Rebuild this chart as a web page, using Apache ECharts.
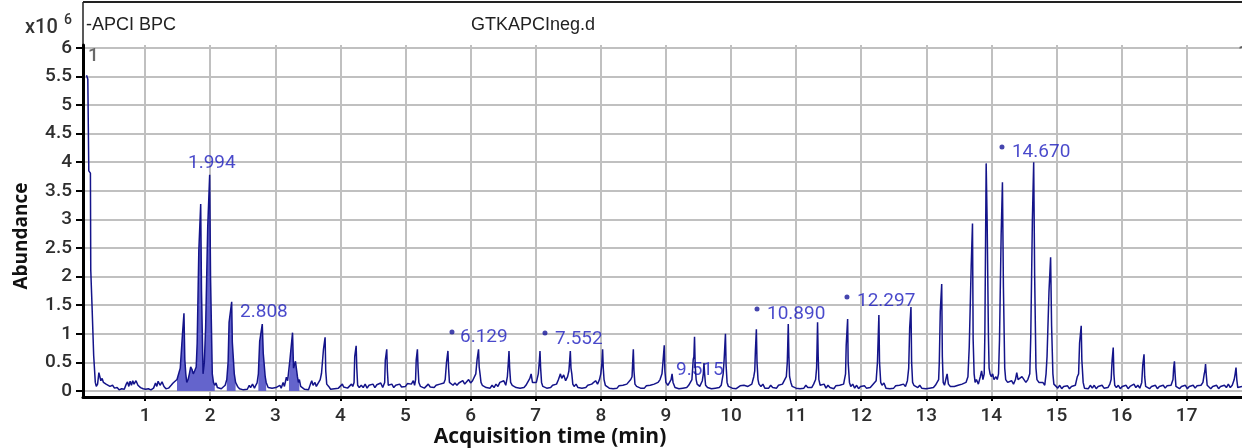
<!DOCTYPE html>
<html><head><meta charset="utf-8">
<script src="https://cdn.jsdelivr.net/npm/echarts@6/dist/echarts.min.js"></script>
<style>html,body{margin:0;padding:0;background:#fff}#c{width:1242px;height:448px}</style>
</head><body><div id="c"></div>
<script>
// ---- Data: BPC trace (time in min, abundance in x10^6) ----
const traceA = [
[0.10,5.52],[0.12,5.45],[0.135,3.85],[0.16,3.81],[0.165,2.12],[0.18,2.1],[0.185,1.48],[0.205,1.47],[0.21,0.62],[0.225,0.6],[0.235,0.15],[0.25,0.08],[0.27,0.12],[0.29,0.32],[0.305,0.3],[0.32,0.18],[0.34,0.22],[0.36,0.15],[0.38,0.18],[0.40,0.12],[0.43,0.14],[0.46,0.08],[0.50,0.10],[0.53,0.05],[0.57,0.06],[0.60,0.02],[0.64,0.04],[0.68,0.03],[0.71,0.12],[0.73,0.16],[0.75,0.08],[0.77,0.17],[0.79,0.1],[0.81,0.18],[0.83,0.12],[0.86,0.18],[0.89,0.1],[0.93,0.06],[0.97,0.04],[1.01,0.03],[1.05,0.04],[1.09,0.02],[1.13,0.05],[1.16,0.14],[1.18,0.08],[1.20,0.17],[1.23,0.1],[1.26,0.16],[1.29,0.08],[1.32,0.04],[1.36,0.05],[1.40,0.1],[1.43,0.14],[1.46,0.12],
[1.49,0.2],[1.52,0.32],[1.54,0.4],[1.565,0.42],[1.575,1.01],[1.585,1.02],[1.597,1.36],[1.61,0.55],[1.625,0.3],[1.64,0.15],[1.66,0.2],[1.68,0.3],[1.70,0.42],[1.72,0.38],[1.74,0.3],[1.76,0.35],[1.785,0.42],[1.80,0.84],[1.825,2.45],[1.838,2.46],[1.854,3.27],[1.866,1.77],[1.878,1.76],[1.89,0.3],[1.91,0.5],[1.93,1.12],[1.946,1.13],[1.962,2.87],[1.975,2.88],[1.992,3.78],[2.005,2.0],[2.02,1.99],[2.032,0.3],[2.05,0.15],[2.07,0.1],
[2.09,0.14],[2.11,0.06],[2.14,0.08],[2.17,0.04],[2.20,0.06],[2.23,0.1],[2.255,0.2],[2.275,0.5],[2.29,1.2],[2.31,1.22],[2.33,1.56],[2.34,0.85],[2.355,0.85],[2.37,0.3],[2.39,0.15],
[2.42,0.08],[2.45,0.04],[2.48,0.06],[2.51,0.02],[2.54,0.05],[2.57,0.03],[2.60,0.1],[2.62,0.06],[2.65,0.12],[2.68,0.05],[2.70,0.1],[2.72,0.14],
[2.74,0.3],[2.76,0.87],[2.78,0.87],[2.80,1.17],[2.815,0.66],[2.83,0.66],[2.845,0.25],[2.86,0.15],
[2.89,0.06],[2.92,0.03],[2.95,0.05],[2.98,0.02],[3.01,0.06],[3.04,0.03],[3.07,0.1],[3.09,0.05],[3.12,0.15],[3.14,0.08],[3.17,0.24],[3.19,0.18],
[3.21,0.2],[3.225,0.55],[3.245,0.55],[3.265,1.02],[3.28,0.4],[3.295,0.4],[3.31,0.52],[3.325,0.52],[3.34,0.25],[3.355,0.15],[3.37,0.2],[3.39,0.08]
];
const traceB = [
[3.42,0.06],[3.45,0.03],[3.48,0.05],[3.51,0.02],[3.54,0.12],[3.56,0.18],[3.58,0.1],[3.61,0.15],[3.63,0.08],[3.66,0.1],[3.69,0.2],
[3.71,0.31],[3.725,0.3],[3.74,0.73],[3.752,0.73],[3.765,0.94],[3.775,0.35],[3.79,0.12],[3.82,0.08],
[3.85,0.03],[3.88,0.02],[3.91,0.04],[3.94,0.02],[3.97,0.05],[4.0,0.03],[4.03,0.12],[4.05,0.07],[4.08,0.1],[4.11,0.05],[4.14,0.08],[4.17,0.12],[4.19,0.08],
[4.21,0.15],[4.22,0.6],[4.232,0.6],[4.242,0.79],[4.252,0.4],[4.265,0.1],[4.29,0.06],
[4.32,0.1],[4.35,0.06],[4.38,0.12],[4.41,0.05],[4.44,0.1],[4.47,0.07],[4.50,0.12],[4.53,0.06],[4.56,0.11],[4.59,0.08],[4.62,0.14],[4.65,0.06],[4.68,0.15],
[4.69,0.54],[4.70,0.55],[4.712,0.73],[4.722,0.35],[4.735,0.1],[4.76,0.08],
[4.79,0.12],[4.82,0.06],[4.85,0.1],[4.88,0.08],[4.91,0.12],[4.94,0.07],[4.97,0.1],[5.0,0.08],[5.03,0.13],[5.06,0.1],[5.09,0.12],[5.12,0.18],[5.14,0.1],
[5.155,0.2],[5.165,0.55],[5.175,0.55],[5.183,0.73],[5.193,0.4],[5.205,0.15],[5.23,0.08],
[5.26,0.1],[5.29,0.05],[5.32,0.08],[5.35,0.12],[5.38,0.07],[5.41,0.1],[5.44,0.06],[5.47,0.1],[5.50,0.07],[5.53,0.12],[5.56,0.1],[5.59,0.14],[5.61,0.2],
[5.63,0.5],[5.64,0.5],[5.652,0.70],[5.662,0.4],[5.675,0.15],[5.70,0.12],
[5.73,0.1],[5.76,0.14],[5.79,0.1],[5.82,0.14],[5.85,0.12],[5.88,0.18],[5.91,0.12],[5.94,0.16],[5.97,0.2],[6.0,0.14],[6.03,0.18],[6.06,0.2],[6.08,0.3],
[6.10,0.55],[6.11,0.55],[6.122,0.73],[6.132,0.42],[6.145,0.3],[6.16,0.15],[6.18,0.1],
[6.21,0.12],[6.24,0.06],[6.27,0.08],[6.30,0.05],[6.33,0.1],[6.36,0.06],[6.39,0.12],[6.42,0.08],[6.45,0.15],[6.48,0.12],[6.51,0.18],[6.54,0.1],[6.565,0.25],
[6.58,0.5],[6.59,0.7],[6.60,0.4],[6.615,0.15],[6.64,0.1],
[6.67,0.12],[6.70,0.06],[6.73,0.09],[6.76,0.05],[6.79,0.08],[6.82,0.06],[6.85,0.1],[6.88,0.12],[6.91,0.22],[6.93,0.3],[6.95,0.15],[6.98,0.12],[7.01,0.15],[7.04,0.3],
[7.055,0.5],[7.066,0.7],[7.076,0.4],[7.09,0.15],[7.11,0.08],
[7.14,0.1],[7.17,0.05],[7.20,0.08],[7.23,0.06],[7.26,0.1],[7.29,0.07],[7.32,0.12],[7.35,0.2],[7.38,0.3],[7.40,0.22],[7.43,0.28],[7.46,0.18],[7.49,0.25],[7.51,0.35],
[7.52,0.5],[7.532,0.7],[7.542,0.4],[7.555,0.3],[7.57,0.12],[7.59,0.08],
[7.62,0.12],[7.65,0.06],[7.68,0.09],[7.71,0.05],[7.74,0.08],[7.77,0.06],[7.80,0.1],[7.83,0.07],[7.86,0.12],[7.89,0.1],[7.92,0.18],[7.95,0.12],[7.98,0.2],[8.0,0.3],
[8.015,0.45],[8.028,0.73],[8.038,0.4],[8.05,0.2],[8.07,0.1],
[8.10,0.12],[8.13,0.05],[8.16,0.08],[8.19,0.04],[8.22,0.07],[8.25,0.05],[8.28,0.09],[8.31,0.06],[8.34,0.1],[8.37,0.07],[8.40,0.12],[8.43,0.1],[8.46,0.2],[8.48,0.25],
[8.49,0.5],[8.50,0.73],[8.51,0.35],[8.525,0.12],[8.55,0.08],
[8.58,0.1],[8.61,0.05],[8.64,0.08],[8.67,0.05],[8.70,0.09],[8.73,0.06],[8.76,0.1],[8.79,0.07],[8.82,0.12],[8.85,0.09],[8.88,0.15],[8.91,0.2],[8.94,0.3],[8.955,0.5]
];
const traceC = [
[8.965,0.5],[8.975,0.8],[8.985,0.35],[9.0,0.15],[9.03,0.1],[9.06,0.12],[9.08,0.2],[9.095,0.3],[9.11,0.15],[9.14,0.06],
[9.17,0.08],[9.20,0.04],[9.23,0.06],[9.26,0.05],[9.29,0.08],[9.32,0.06],[9.35,0.1],[9.38,0.12],[9.40,0.2],[9.42,0.55],
[9.43,0.6],[9.44,0.95],[9.45,0.45],[9.465,0.2],[9.48,0.12],[9.50,0.1],[9.52,0.08],[9.54,0.1],[9.56,0.18],[9.575,0.3],[9.585,0.49],[9.595,0.3],[9.61,0.1],
[9.64,0.06],[9.67,0.08],[9.70,0.04],[9.73,0.07],[9.76,0.05],[9.79,0.08],[9.82,0.06],[9.85,0.1],[9.88,0.3],
[9.895,0.55],[9.905,0.55],[9.915,1.0],[9.925,0.45],[9.94,0.15],[9.96,0.08],
[9.99,0.1],[10.02,0.05],[10.05,0.08],[10.08,0.04],[10.11,0.06],[10.14,0.09],[10.17,0.06],[10.20,0.1],[10.23,0.07],[10.26,0.08],[10.29,0.06],[10.32,0.12],[10.35,0.25],
[10.365,0.35],[10.375,0.7],[10.38,0.7],[10.39,1.08],[10.40,0.5],[10.415,0.2],[10.43,0.12],[10.46,0.08],
[10.49,0.12],[10.52,0.05],[10.55,0.08],[10.58,0.05],[10.61,0.1],[10.64,0.06],[10.67,0.09],[10.70,0.05],[10.73,0.1],[10.76,0.08],[10.79,0.12],[10.82,0.15],[10.85,0.25],
[10.865,0.5],[10.872,0.8],[10.88,1.17],[10.89,0.6],[10.9,0.25],[10.92,0.15],[10.94,0.08],
[10.97,0.1],[11.0,0.05],[11.03,0.08],[11.06,0.04],[11.09,0.07],[11.12,0.05],[11.15,0.1],[11.18,0.06],[11.21,0.08],[11.24,0.06],[11.27,0.12],[11.30,0.2],
[11.315,0.4],[11.322,0.75],[11.33,1.2],[11.34,0.6],[11.35,0.2],[11.37,0.1],
[11.40,0.08],[11.43,0.12],[11.46,0.05],[11.49,0.1],[11.52,0.06],[11.55,0.08],[11.58,0.04],[11.61,0.09],[11.64,0.06],[11.67,0.1],[11.70,0.08],[11.73,0.12],[11.76,0.3],
[11.77,0.8],[11.782,0.82],[11.792,1.26],[11.80,0.5],[11.81,0.5],[11.82,0.15],[11.84,0.08],
[11.87,0.12],[11.90,0.05],[11.93,0.1],[11.96,0.04],[11.99,0.08],[12.02,0.05],[12.05,0.09],[12.08,0.05],[12.11,0.08],[12.14,0.06],[12.17,0.1],[12.20,0.12],[12.23,0.18],
[12.25,0.5],[12.262,0.5],[12.272,1.33],[12.282,0.5],[12.29,0.5],[12.30,0.15],[12.32,0.1],[12.35,0.14],
[12.38,0.05],[12.41,0.08],[12.44,0.04],[12.47,0.07],[12.50,0.05],[12.53,0.09],[12.56,0.06],[12.59,0.1],[12.62,0.07],[12.65,0.12],[12.68,0.08],[12.71,0.18],
[12.73,0.4],[12.745,1.1],[12.755,1.11],[12.765,1.47],[12.775,0.5],[12.79,0.15],[12.81,0.1],[12.84,0.12],[12.87,0.06],
[12.90,0.1],[12.93,0.05],[12.96,0.08],[12.99,0.04],[13.02,0.07],[13.05,0.05],[13.08,0.08],[13.11,0.06],[13.14,0.1],[13.17,0.08],[13.19,0.2],
[13.20,0.5],[13.215,1.39],[13.225,1.4],[13.237,1.87],[13.247,0.6],[13.26,0.15],[13.28,0.1],[13.30,0.12],[13.32,0.3],[13.34,0.12],
[13.37,0.08],[13.40,0.05],[13.43,0.08],[13.46,0.05],[13.49,0.1],[13.52,0.07],[13.55,0.12],[13.58,0.1],[13.61,0.15],[13.64,0.25]
];
const traceD = [
[13.66,0.77],[13.675,0.78],[13.69,2.18],[13.70,2.2],[13.71,2.93],[13.72,0.9],[13.735,0.3],[13.75,0.15],[13.77,0.2],[13.80,0.12],[13.83,0.25],[13.85,0.35],[13.87,0.2],[13.89,0.3],
[13.90,1.0],[13.91,1.02],[13.92,3.98],[13.935,2.97],[13.945,2.97],[13.955,0.95],[13.965,0.4],[13.98,0.3],[14.0,0.25],[14.02,0.3],[14.04,0.2],[14.07,0.25],[14.09,0.2],[14.11,0.3],
[14.125,0.9],[14.135,0.92],[14.15,2.72],[14.16,2.72],[14.17,3.65],[14.185,1.82],[14.195,1.82],[14.205,0.4],[14.22,0.2],[14.25,0.15],[14.28,0.12],[14.31,0.18],[14.34,0.12],[14.37,0.2],[14.39,0.32],[14.41,0.2],[14.44,0.18],[14.47,0.25],[14.50,0.22],[14.53,0.15],[14.56,0.2],[14.59,0.3],
[14.605,0.95],[14.615,0.96],[14.63,2.99],[14.64,3.0],[14.65,4.0],[14.665,2.0],[14.675,2.0],[14.685,0.4],[14.70,0.2],[14.73,0.15],[14.76,0.12],[14.79,0.15],[14.82,0.1],[14.84,0.3],[14.855,0.6],
[14.87,0.62],[14.885,1.74],[14.895,1.75],[14.91,2.34],[14.925,1.14],[14.935,1.14],[14.945,0.3],[14.96,0.12],[14.99,0.1],
[15.02,0.05],[15.05,0.1],[15.08,0.04],[15.11,0.08],[15.14,0.05],[15.17,0.09],[15.20,0.04],[15.23,0.08],[15.26,0.05],[15.29,0.1],[15.32,0.25],
[15.34,0.3],[15.355,0.84],[15.365,0.85],[15.38,1.14],[15.39,0.54],[15.40,0.54],[15.41,0.15],[15.43,0.05],
[15.46,0.08],[15.49,0.04],[15.52,0.1],[15.55,0.05],[15.58,0.1],[15.61,0.04],[15.64,0.08],[15.67,0.05],[15.70,0.1],[15.73,0.05],[15.76,0.08],[15.79,0.06],[15.82,0.12],[15.84,0.2],
[15.855,0.54],[15.862,0.55],[15.872,0.76],[15.882,0.3],[15.895,0.1],[15.92,0.06],
[15.95,0.1],[15.98,0.04],[16.01,0.08],[16.04,0.05],[16.07,0.1],[16.10,0.04],[16.13,0.08],[16.16,0.05],[16.19,0.12],[16.22,0.06],[16.25,0.1],[16.28,0.05],[16.31,0.15],
[16.325,0.45],[16.335,0.46],[16.345,0.64],[16.355,0.25],[16.37,0.08],
[16.40,0.1],[16.43,0.04],[16.46,0.08],[16.49,0.05],[16.52,0.1],[16.55,0.04],[16.58,0.08],[16.61,0.05],[16.64,0.1],[16.67,0.05],[16.70,0.09],[16.73,0.06],[16.76,0.1],[16.79,0.2],
[16.80,0.4],[16.812,0.52],[16.822,0.3],[16.835,0.08],
[16.86,0.1],[16.89,0.04],[16.92,0.08],[16.95,0.05],[16.98,0.1],[17.01,0.04],[17.04,0.08],[17.07,0.05],[17.10,0.1],[17.13,0.05],[17.16,0.09],[17.19,0.06],[17.22,0.1],[17.25,0.15],[17.27,0.3],
[17.28,0.35],[17.29,0.47],[17.30,0.3],[17.315,0.1],
[17.34,0.08],[17.37,0.04],[17.40,0.08],[17.43,0.05],[17.46,0.1],[17.49,0.04],[17.52,0.08],[17.55,0.05],[17.58,0.1],[17.61,0.06],[17.64,0.12],[17.67,0.06],[17.70,0.1],[17.73,0.2],
[17.745,0.3],[17.758,0.41],[17.77,0.2],[17.785,0.06],[17.81,0.05],[17.85,0.08]
];
// integrated (shaded) time windows
const fillRanges = [[1.49,2.07],[2.255,2.39],[2.74,2.86],[3.21,3.37]];

// tick values
const xTicks = [1,2,3,4,5,6,7,8,9,10,11,12,13,14,15,16,17];
const yTicks = [0,0.5,1,1.5,2,2.5,3,3.5,4,4.5,5,5.5,6];

// peak annotations (placed in data coordinates)
const peakLabelText  = ['1.994','2.808','6.129','7.552','9.515','10.890','12.297','14.670'];
const peakLabelTime  = [1.659, 2.458, 5.837, 7.296, 9.155, 10.553, 11.935, 14.316];
const peakLabelAbund = [3.99, 1.38, 0.944, 0.909, 0.367, 1.346, 1.573, 4.178];
const peakDotTime  = [5.714, 7.143, 10.40, 11.782, 14.163];
const peakDotAbund = [1.031, 1.014, 1.434, 1.643, 4.266];
const scanMarkText  = ['1','1'];
const scanMarkTime  = [0.123, 17.79];
const scanMarkAbund = [5.86, 5.9];

// ---- build ----
const trace = traceA.concat(traceB, traceC, traceD);
const fillData = trace.map(p => fillRanges.some(r => p[0] >= r[0] && p[0] <= r[1]) ? p : [p[0], null]);

const chart = echarts.init(document.getElementById('c'), null, {renderer: 'canvas'});
const tickFont = 'Roboto';
chart.setOption({
  animation: false,
  backgroundColor: '#fff',
  grid: {left: 83, right: 0, top: 45, bottom: 51, containLabel: false},
  xAxis: {
    type: 'value', min: 0.046, max: 17.85,
    axisLine: {show: true, onZero: false, lineStyle: {color: '#000', width: 3}},
    axisTick: {show: true, length: 4, lineStyle: {color: '#000', width: 2}, customValues: xTicks},
    axisLabel: {customValues: xTicks, color: '#2e2e2e', fontSize: 19, fontWeight: 500, fontFamily: tickFont, margin: 10},
    splitLine: {show: true, lineStyle: {color: '#c0c0c0', width: 2}}
  },
  yAxis: {
    type: 'value', min: -0.105, max: 6.05,
    axisLine: {show: true, onZero: false, lineStyle: {color: '#000', width: 3}},
    axisTick: {show: true, length: 7, lineStyle: {color: '#000', width: 2}, customValues: yTicks},
    axisLabel: {customValues: yTicks, color: '#2e2e2e', fontSize: 19, fontWeight: 500, fontFamily: tickFont, margin: 11},
    splitLine: {show: true, lineStyle: {color: '#c0c0c0', width: 2}}
  },
  series: [
    {type: 'line', data: fillData, showSymbol: false, connectNulls: false, z: 2,
     lineStyle: {width: 0}, areaStyle: {color: '#6464cc', opacity: 1}, silent: true},
    {type: 'line', data: trace, showSymbol: false, z: 4,
     lineStyle: {color: '#14148a', width: 1.5}, silent: true},
    {type: 'scatter', z: 1, symbolSize: 0, silent: true,
     data: peakLabelText.map((t, i) => ({name: t, value: [peakLabelTime[i], peakLabelAbund[i]]})),
     label: {show: true, position: 'right', distance: 0, formatter: '{b}', color: '#1c1cbe', fontSize: 19, fontFamily: tickFont}},
    {type: 'scatter', z: 3, symbol: 'circle', symbolSize: 5, silent: true,
     itemStyle: {color: '#16169a'},
     data: peakDotTime.map((t, i) => [t, peakDotAbund[i]])},
    {type: 'scatter', z: 3, symbolSize: 0, silent: true,
     data: scanMarkText.map((t, i) => ({name: t, value: [scanMarkTime[i], scanMarkAbund[i]]})),
     label: {show: true, position: 'right', distance: 0, formatter: '{b}', color: '#444', fontSize: 19, fontWeight: 500, fontFamily: tickFont}}
  ],
  graphic: [
    {type: 'line', shape: {x1: 83, y1: 2, x2: 1242, y2: 2}, style: {stroke: '#222', lineWidth: 2}},
    {type: 'line', shape: {x1: 83, y1: 2, x2: 83, y2: 46}, style: {stroke: '#222', lineWidth: 1.5}},
    {type: 'text', x: 25, y: 28, style: {text: 'x10', fill: '#333', font: '500 20px Roboto', align: 'left', verticalAlign: 'middle'}},
    {type: 'text', x: 64, y: 20, style: {text: '6', fill: '#333', font: '500 14px Roboto', align: 'left', verticalAlign: 'middle'}},
    {type: 'text', x: 86, y: 25, style: {text: '-APCI BPC', fill: '#222', font: '18px "Liberation Sans"', align: 'left', verticalAlign: 'middle'}},
    {type: 'text', x: 471, y: 25, style: {text: 'GTKAPCIneg.d', fill: '#222', font: '18px "Liberation Sans"', align: 'left', verticalAlign: 'middle'}},
    {type: 'text', x: 22, y: 236, rotation: Math.PI / 2, style: {text: 'Abundance', fill: '#111', font: 'bold 19px "Open Sans"', align: 'center', verticalAlign: 'middle'}},
    {type: 'text', x: 550, y: 437, style: {text: 'Acquisition time (min)', fill: '#111', font: 'bold 21px "Open Sans"', align: 'center', verticalAlign: 'middle'}}
  ]
});
</script></body></html>
